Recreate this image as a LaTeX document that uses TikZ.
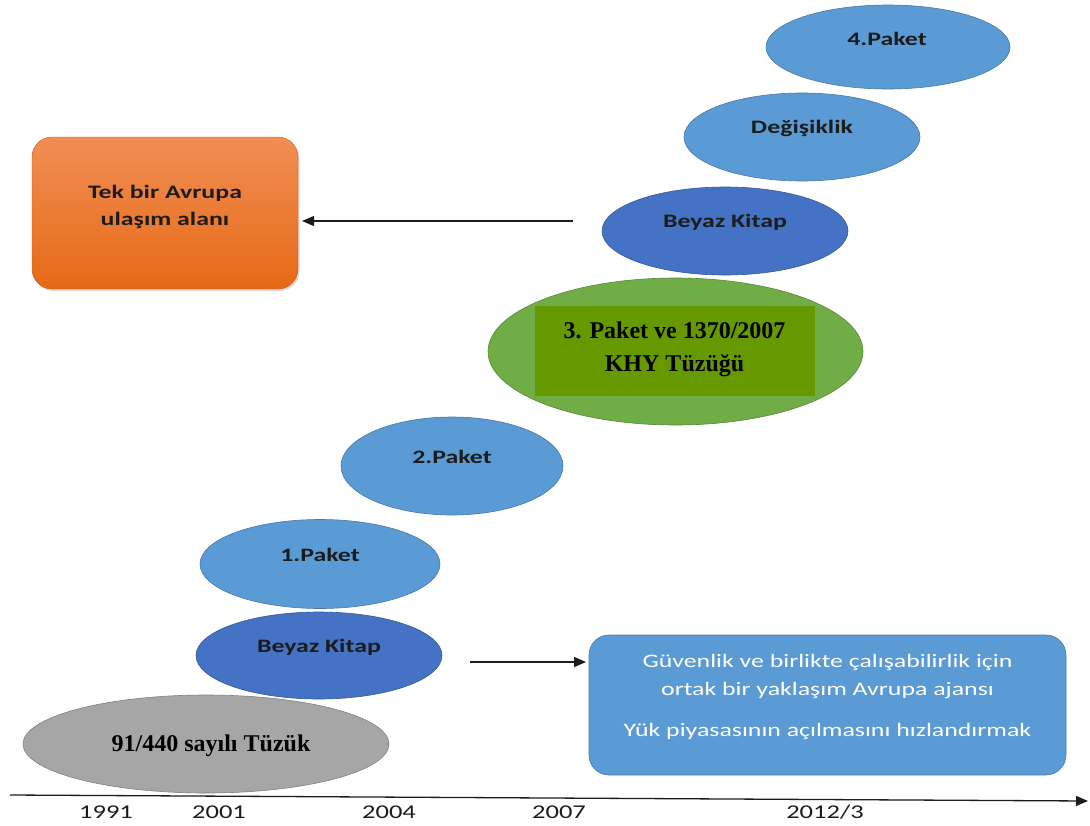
\documentclass[tikz,border=0pt]{standalone}
\usepackage{fontspec}
\setmainfont{Liberation Serif}
\newfontfamily\calibri{Carlito}
\usetikzlibrary{arrows.meta,shapes.geometric,shadows}

\definecolor{lblue}{RGB}{91,155,213}
\definecolor{dblue}{RGB}{68,114,196}
\definecolor{lgreen}{RGB}{112,173,71}
\definecolor{dgreen}{RGB}{102,153,0}
\definecolor{lgray}{RGB}{166,166,166}
\definecolor{otop}{RGB}{242,142,84}
\definecolor{obot}{RGB}{229,106,22}
\definecolor{ink}{RGB}{28,28,28}

\newcommand{\wtext}[1]{\scalebox{1.36}[1]{#1}}

\tikzset{
  ell/.style={ellipse, draw=#1!78!black, fill=#1, line width=0.6pt, inner sep=0pt},
  lbl/.style={font=\calibri\fontsize{19}{27}\selectfont\bfseries, text=ink, align=center, inner sep=0.75pt},
  yearlbl/.style={font=\calibri\fontsize{19.5}{24}\selectfont, text=ink, inner sep=0.75pt},
  serlbl/.style={font=\fontsize{24}{33}\selectfont\bfseries, text=black, align=center, inner sep=0.75pt},
  tip/.style={-{Triangle[length=12pt,width=10pt]}, line width=1.1pt, draw=ink}
}

\begin{document}
\begin{tikzpicture}[x=1pt,y=1pt,yscale=-1,xscale=1]
\useasboundingbox (0,0) rectangle (1090,825);

%Shape: Ellipse [91/440]
\node [ell=lgray, minimum width=366pt, minimum height=98pt] (reg) at (206,744) {};
\node [serlbl] (regt) at (211,746) {91/440 sayılı Tüzük};

%Shape: Ellipse [lower Beyaz Kitap]
\node [ell=dblue, minimum width=246pt, minimum height=87pt] (wk1) at (319,655.5) {};
\node [lbl] (wk1t) at (319,647) {\wtext{Beyaz Kitap}};
%Shape: Ellipse [1.Paket]
\node [ell=lblue, minimum width=240pt, minimum height=89pt] (p1) at (320,564) {};
\node [lbl] (p1t) at (320,555) {\wtext{1.Paket}};
%Shape: Ellipse [2.Paket]
\node [ell=lblue, minimum width=222pt, minimum height=98pt] (p2) at (452,466) {};
\node [lbl] (p2t) at (452,457) {\wtext{2.Paket}};

%Shape: Ellipse [3.Paket]
\node [ell=lgreen, minimum width=375pt, minimum height=147pt] (p3) at (675.5,351.5) {};
\node [fill=dgreen, minimum width=280pt, minimum height=90pt, inner sep=0pt] (p3box) at (675,351) {};
\node [serlbl] (p3t) at (674.5,349) {3. Paket ve 1370/2007\\KHY Tüzüğü};

%Shape: Ellipse [upper Beyaz Kitap]
\node [ell=dblue, minimum width=246pt, minimum height=88pt] (wk2) at (725,231) {};
\node [lbl] (wk2t) at (725,222) {\wtext{Beyaz Kitap}};
%Shape: Ellipse [Değişiklik]
\node [ell=lblue, minimum width=236pt, minimum height=88pt] (deg) at (802,137) {};
\node [lbl] (degt) at (802,128) {\wtext{Değişiklik}};
%Shape: Ellipse [4.Paket]
\node [ell=lblue, minimum width=244pt, minimum height=84pt] (p4) at (888,47) {};
\node [lbl] (p4t) at (887,39) {\wtext{4.Paket}};

%Shape: Rectangle [Tek bir Avrupa]
\node [rounded corners=20pt, top color=otop, bottom color=obot, draw=obot!90!black, line width=0.4pt,
  drop shadow={shadow xshift=1.5pt, shadow yshift=-2pt, opacity=0.3},
  minimum width=266pt, minimum height=152pt] (tek) at (165,213) {};
\node [lbl] (tekt) at (165,207) {\wtext{Tek bir Avrupa}\\\wtext{ulaşım alanı}};

%Shape: Rectangle [Güvenlik]
\node [rounded corners=20pt, fill=lblue, draw=lblue!80!black, line width=0.6pt,
  minimum width=477pt, minimum height=140pt] (guv) at (827.5,705) {};
\node [lbl, font=\calibri\fontsize{19}{28}\selectfont, text=white] (guvt) at (827.5,697)
  {\wtext{Güvenlik ve birlikte çalışabilirlik için}\\\wtext{ortak bir yaklaşım Avrupa ajansı}\\[13pt]\wtext{Yük piyasasının açılmasını hızlandırmak}};

%Straight Lines [arrows]
\coordinate (a1s) at (573,221);
\coordinate (a1e) at (302,221);
\draw [tip] (a1s) -- (a1e);
\coordinate (a2s) at (470,662);
\coordinate (a2e) at (586,662);
\draw [tip] (a2s) -- (a2e);

%Straight Lines [time axis]
\coordinate (ax0) at (10,795);
\coordinate (ax1) at (1088,801);
\draw [tip, line width=1.3pt] (ax0) -- (ax1);

% Text Node [years]
\node [yearlbl] (y1991) at (106,812) {\wtext{1991}};
\node [yearlbl] (y2001) at (219,812) {\wtext{2001}};
\node [yearlbl] (y2004) at (389,812) {\wtext{2004}};
\node [yearlbl] (y2007) at (559,812) {\wtext{2007}};
\node [yearlbl] (y2012) at (825,812) {\wtext{2012/3}};

\end{tikzpicture}
\end{document}
